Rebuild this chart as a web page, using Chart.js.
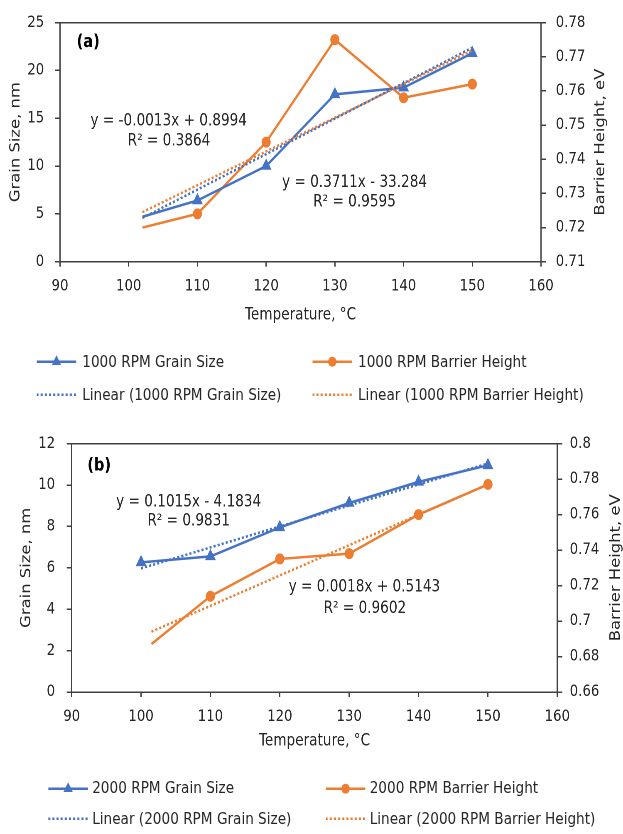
<!DOCTYPE html>
<html>
<head>
<meta charset="utf-8">
<title>Grain size and barrier height vs temperature</title>
<script src="https://cdn.jsdelivr.net/npm/chart.js@4.4.1/dist/chart.umd.min.js"></script>
<style>
  html, body { margin: 0; padding: 0; background: #fff; overflow: hidden; }
  body { width: 623px; height: 834px; position: relative; }
  /* the figure is laid out wide and squeezed horizontally, like the exported sheet */
  #sheet {
    position: absolute; left: 0; top: 0;
    width: 750px; height: 834px;
    transform: scaleX(0.8307); transform-origin: 0 0;
    font-family: 'DejaVu Sans', sans-serif; color: #262626;
  }
  #sheet canvas { position: absolute; left: 0; }
  .item {
    position: absolute; display: flex; align-items: center;
    white-space: nowrap; transform: translateY(-50%);
    font-size: 16.4px; line-height: 1;
  }
</style>
</head>
<body>
<div id="sheet">
  <canvas id="chartA" width="750" height="335" style="top:0"></canvas>
  <canvas id="chartB" width="750" height="341" style="top:420px"></canvas>
  <div id="legendA"></div>
  <div id="legendB"></div>
</div>

<script>
/* ── DATA ───────────────────────────────────────────────────── */
/* (a) 1000 RPM */
const tempA       = [102, 110, 120, 130, 140, 150];
const grainA      = [4.7, 6.4, 10.0, 17.5, 18.2, 21.8];
const barrierA    = [0.720, 0.724, 0.745, 0.775, 0.758, 0.762];
const fitTempA    = [102, 150];
const grainFitA   = [4.57, 22.38];
const barrierFitA = [0.7245, 0.7719];

/* (b) 2000 RPM */
const grainTempB      = [100, 110, 120, 130, 140, 150];
const grainB          = [6.26, 6.55, 7.95, 9.13, 10.15, 10.95];
const barrierTempB    = [101.5, 110, 120, 130, 140, 150];
const barrierB        = [0.687, 0.714, 0.735, 0.738, 0.760, 0.777];
const grainFitTempB   = [100, 150];
const grainFitB       = [5.97, 11.04];
const barrierFitTempB = [101.5, 150];
const barrierFitB     = [0.694, 0.777];

/* axis ranges */
const tempRange     = [90, 160, 10];
const grainRangeA   = [0, 25, 5];
const barrierRangeA = [0.71, 0.78, 0.01];
const grainRangeB   = [0, 12, 2];
const barrierRangeB = [0.66, 0.8, 0.02];

/* ── STYLE ──────────────────────────────────────────────────── */
const BLUE   = '#4472C4';
const ORANGE = '#ED7D31';
const INK    = '#262626';
const AXIS   = '#404040';
const FONT   = "'DejaVu Sans', sans-serif";

const pts = (xs, ys) => xs.map((x, i) => ({ x, y: ys[i] }));

/* solid series with markers, and dotted linear fit */
function series(label, xs, ys, color, axis, style, radii) {
  return {
    label, data: pts(xs, ys), xAxisID: 'x', yAxisID: axis,
    borderColor: color, backgroundColor: color, borderWidth: 2.5,
    pointStyle: style, pointRadius: radii, pointBorderWidth: 1,
    pointBorderColor: color, pointBackgroundColor: color,
    tension: 0, order: 1,
  };
}
function trend(label, xs, ys, color, axis) {
  return {
    label, data: pts(xs, ys), xAxisID: 'x', yAxisID: axis,
    borderColor: color, borderWidth: 2.5, borderDash: [2.5, 2.5],
    pointRadius: 0, tension: 0, order: 0, trend: true,
  };
}

/* text notes (panel tag + trendline equations) anchored in data units,
   plus the right-hand axis title, which reads bottom-to-top */
function notesPlugin(items, rightTitleOffset) {
  return {
    id: 'notes',
    afterDatasetsDraw(chart) {
      const { ctx, scales, chartArea } = chart;
      ctx.save();
      ctx.textBaseline = 'middle';
      items.forEach(n => {
        ctx.font = n.bold ? `bold 17.5px ${FONT}` : `16.4px ${FONT}`;
        ctx.fillStyle = n.bold ? '#000' : INK;
        ctx.textAlign = n.bold ? 'left' : 'center';
        ctx.fillText(n.text, scales.x.getPixelForValue(n.x), scales.y.getPixelForValue(n.y));
      });
      ctx.translate(scales.y1.right - rightTitleOffset, (chartArea.top + chartArea.bottom) / 2);
      ctx.rotate(-Math.PI / 2);
      ctx.font = `16.4px ${FONT}`;
      ctx.fillStyle = INK;
      ctx.textAlign = 'center';
      ctx.fillText('Barrier Height, eV', 0, 0);
      ctx.restore();
    },
  };
}

const tickFont  = { family: FONT, size: 16 };
const titleFont = { family: FONT, size: 16.4, lineHeight: 1 };
const fmt2 = v => String(+Number(v).toFixed(2));

function buildChart(id, p) {
  const edge = () => ({
    border: { display: true, color: AXIS, width: 1.5 },
    grid: { display: true, drawOnChartArea: false, drawTicks: true, tickLength: 6, color: AXIS, lineWidth: 1.5 },
  });
  return new Chart(document.getElementById(id), {
    type: 'line',
    data: { datasets: p.datasets },
    options: {
      responsive: false,
      animation: false,
      devicePixelRatio: 2,
      layout: { padding: { top: p.top, left: 0, right: 0, bottom: 0 } },
      plugins: { legend: { display: false }, tooltip: { enabled: false } },
      scales: {
        x: {
          type: 'linear', position: 'bottom',
          min: tempRange[0], max: tempRange[1],
          ...edge(),
          grid: { display: true, drawOnChartArea: false, tickLength: 5, color: AXIS, lineWidth: 1.5 },
          ticks: { stepSize: tempRange[2], padding: 10, color: INK, font: tickFont, maxRotation: 0 },
          title: { display: true, text: 'Temperature, °C', color: INK, font: titleFont, padding: { top: 0, bottom: 11.8 } },
          afterFit: s => { s.height = p.xHeight; },
        },
        xTop: {
          type: 'linear', position: 'top',
          min: tempRange[0], max: tempRange[1],
          border: { display: true, color: AXIS, width: 1.5 },
          grid: { display: false, drawTicks: false },
          ticks: { display: false },
          afterFit: s => { s.height = 0; },
        },
        y: {
          type: 'linear', position: 'left',
          min: p.grain[0], max: p.grain[1],
          ...edge(),
          ticks: { stepSize: p.grain[2], padding: p.leftPad, color: INK, font: tickFont },
          title: { display: true, text: 'Grain Size, nm', color: INK, font: titleFont, padding: { top: p.leftTitle, bottom: 0 } },
          afterFit: s => { s.width = p.leftWidth; },
        },
        y1: {
          type: 'linear', position: 'right',
          min: p.barrier[0], max: p.barrier[1],
          ...edge(),
          ticks: { stepSize: p.barrier[2], padding: p.rightPad, color: INK, font: tickFont, callback: fmt2 },
          title: { display: false },
          afterFit: s => { s.width = p.rightWidth; },
        },
      },
    },
    plugins: [notesPlugin(p.notes, p.rightTitle)],
  });
}

/* ── LEGEND (html) ────────────── */
function sample(ds) {
  const c = ds.borderColor;
  let mark = '';
  if (!ds.trend && ds.pointStyle === 'triangle') {
    mark = `<polygon points="24,1.5 29.6,11.25 18.4,11.25" fill="${c}"/>`;
  } else if (!ds.trend) {
    mark = `<circle cx="24" cy="8" r="5" fill="${c}"/>`;
  }
  const dash = ds.trend ? 'stroke-dasharray="2.5 2.5"' : '';
  return `<svg width="48" height="16" style="flex:none">
    <line x1="0" y1="8" x2="48" y2="8" stroke="${c}" stroke-width="2.5" ${dash}/>${mark}</svg>`;
}
function buildLegend(el, chart, cols, rows, gap) {
  const ds = chart.data.datasets;
  const order = [[0, 1], [2, 3]];
  el.innerHTML = order.map((row, r) => row.map((di, c) => `
    <div class="item" style="left:${cols[c]}px;top:${rows[r]}px">
      ${sample(ds[di])}<span style="margin-left:${gap}px">${ds[di].label}</span>
    </div>`).join('')).join('');
}

/* ── PANEL (a) ──────────────────────────────────────────────── */
const chartA = buildChart('chartA', {
  top: 14.7, xHeight: 73.3,
  grain: grainRangeA, barrier: barrierRangeA,
  leftWidth: 72.2, leftPad: 13, leftTitle: 11.1,
  rightWidth: 98.7, rightPad: 11.7, rightTitle: 26.9,
  datasets: [
    series('1000 RPM Grain Size', tempA, grainA, BLUE, 'y', 'triangle', [0, 6.5, 6.5, 6.5, 6.5, 6.5]),
    series('1000 RPM Barrier Height', tempA, barrierA, ORANGE, 'y1', 'circle', [0, 5, 5, 5, 5, 5]),
    trend('Linear (1000 RPM Grain Size)', fitTempA, grainFitA, BLUE, 'y'),
    trend('Linear (1000 RPM Barrier Height)', fitTempA, barrierFitA, ORANGE, 'y1'),
  ],
  notes: [
    { text: '(a)', x: 92.43, y: 22.94, bold: true },
    { text: 'y = -0.0013x + 0.8994', x: 105.82, y: 14.68 },
    { text: 'R² = 0.3864', x: 105.86, y: 12.59 },
    { text: 'y = 0.3711x - 33.284', x: 132.86, y: 8.27 },
    { text: 'R² = 0.9595', x: 132.86, y: 6.19 },
  ],
});

/* ── PANEL (b) ──────────────────────────────────────────────── */
const chartB = buildChart('chartB', {
  top: 20.7, xHeight: 69,
  grain: grainRangeB, barrier: barrierRangeB,
  leftWidth: 86.3, leftPad: 14, leftTitle: 23.9,
  rightWidth: 79.1, rightPad: 8.9, rightTitle: 8.1,
  datasets: [
    series('2000 RPM Grain Size', grainTempB, grainB, BLUE, 'y', 'triangle', 6.5),
    series('2000 RPM Barrier Height', barrierTempB, barrierB, ORANGE, 'y1', 'circle', [0, 5, 5, 5, 5, 5]),
    trend('Linear (2000 RPM Grain Size)', grainFitTempB, grainFitB, BLUE, 'y'),
    trend('Linear (2000 RPM Barrier Height)', barrierFitTempB, barrierFitB, ORANGE, 'y1'),
  ],
  notes: [
    { text: '(b)', x: 92.25, y: 10.92, bold: true },
    { text: 'y = 0.1015x - 4.1834', x: 106.86, y: 9.16 },
    { text: 'R² = 0.9831', x: 106.86, y: 8.24 },
    { text: 'y = 0.0018x + 0.5143', x: 132.19, y: 5.07 },
    { text: 'R² = 0.9602', x: 132.26, y: 4.03 },
  ],
});

buildLegend(document.getElementById('legendA'), chartA, [44, 376], [361.7, 395], 7);
buildLegend(document.getElementById('legendB'), chartB, [58, 392], [788.3, 819], 5);
</script>
</body>
</html>
